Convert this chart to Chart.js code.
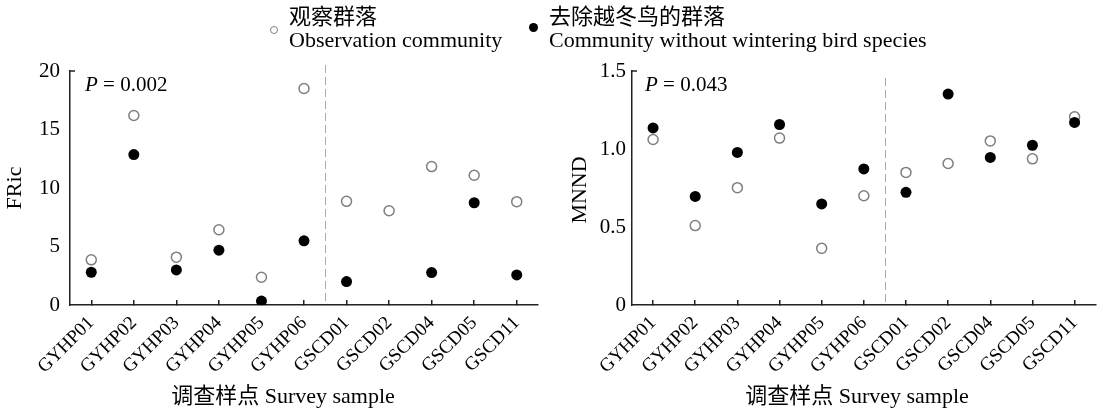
<!DOCTYPE html>
<html>
<head>
<meta charset="utf-8">
<script src="https://cdn.jsdelivr.net/npm/chart.js@4.4.1/dist/chart.umd.min.js"></script>
<style>
  body { margin: 0; background: #fff; }
  #wrap { position: relative; width: 1103px; height: 413px; overflow: hidden; }
  canvas { position: absolute; left: 0; top: 0; }
  .lg { position: absolute; font-family: "Liberation Serif", "Noto Sans CJK SC", serif; font-size: 22px; line-height: 23px; color: #000; white-space: nowrap; }
  .dot { position: absolute; border-radius: 50%; box-sizing: border-box; }
</style>
</head>
<body>
<div id="wrap">
  <canvas id="fricChart" width="1103" height="413"></canvas>
  <canvas id="mnndChart" width="1103" height="413"></canvas>

  <!-- legend shared by both panels -->
  <div class="dot" style="left:270px;top:26px;width:8px;height:8px;border:1px solid #808080;"></div>
  <div class="lg" style="left:289px;top:5px;">观察群落<br>Observation community</div>
  <div class="dot" style="left:529px;top:23px;width:9px;height:9px;background:#000;"></div>
  <div class="lg" style="left:549px;top:5px;">去除越冬鸟的群落<br>Community without wintering bird species</div>
</div>

<script>
// survey samples (x axis)
const samples = ['GYHP01', 'GYHP02', 'GYHP03', 'GYHP04', 'GYHP05', 'GYHP06',
                 'GSCD01', 'GSCD02', 'GSCD04', 'GSCD05', 'GSCD11'];

// functional richness
const fricObserved = [3.86, 16.2, 4.09, 6.43, 2.37, 18.5, 8.86, 8.06, 11.83, 11.09, 8.83];
const fricNoWinter = [2.8, 12.86, 3.0, 4.69, 0.34, 5.49, 2.0, null, 2.77, 8.74, 2.57];
const fricTicks = [0, 5, 10, 15, 20];

// mean nearest neighbour distance
const mnndObserved = [1.061, 0.509, 0.752, 1.07, 0.363, 0.70, 0.85, 0.907, 1.052, 0.937, 1.207];
const mnndNoWinter = [1.135, 0.696, 0.978, 1.157, 0.648, 0.872, 0.722, 1.352, 0.946, 1.024, 1.17];
const mnndTicks = [0, 0.5, 1.0, 1.5];

const SERIF = '"Liberation Serif", "Noto Sans CJK SC", serif';
const AXIS = '#222';

// dashed separator, P value, axis titles
const decor = {
  id: 'decor',
  afterDraw(chart, args, o) {
    const { ctx, chartArea, scales: { x } } = chart;
    ctx.save();
    const sx = Math.round((x.getPixelForValue(5) + x.getPixelForValue(6)) / 2) + 0.5;
    ctx.strokeStyle = '#aaaaaa';
    ctx.lineWidth = 1;
    ctx.setLineDash([8, 4]);
    ctx.beginPath();
    ctx.moveTo(sx, o.sepTop);
    ctx.lineTo(sx, chartArea.bottom - 1);
    ctx.stroke();
    ctx.setLineDash([]);

    // small cap at the top of the y axis
    ctx.strokeStyle = AXIS;
    ctx.lineWidth = 1.5;
    ctx.beginPath();
    ctx.moveTo(chartArea.left, chartArea.top);
    ctx.lineTo(chartArea.left + 5, chartArea.top);
    ctx.stroke();

    ctx.fillStyle = '#000';
    ctx.textBaseline = 'middle';
    ctx.textAlign = 'left';
    ctx.font = 'italic 21px ' + SERIF;
    ctx.fillText('P', o.pX, o.pY);
    const pw = ctx.measureText('P').width;
    ctx.font = '21px ' + SERIF;
    ctx.fillText(' = ' + o.pValue, o.pX + pw, o.pY);

    ctx.textAlign = 'center';
    ctx.font = '22px ' + SERIF;
    ctx.fillText(o.xTitle, o.xTitleX, o.xTitleY);
    ctx.translate(o.yTitleX, o.yTitleY);
    ctx.rotate(-Math.PI / 2);
    ctx.fillText(o.yTitle, 0, 0);
    ctx.restore();
  }
};

function makeChart(id, observed, noWinter, ticks, fmt, box, decorOpts) {
  return new Chart(document.getElementById(id), {
    type: 'line',
    data: {
      labels: samples,
      datasets: [
        {
          label: '去除越冬鸟的群落 Community without wintering bird species',
          data: noWinter,
          showLine: false,
          pointRadius: 5.5,
          pointBackgroundColor: '#000',
          pointBorderColor: '#000',
          pointBorderWidth: 0
        },
        {
          label: '观察群落 Observation community',
          data: observed,
          showLine: false,
          pointRadius: 5,
          pointBackgroundColor: 'rgba(255,255,255,0)',
          pointBorderColor: '#7f7f7f',
          pointBorderWidth: 1.5
        }
      ]
    },
    options: {
      responsive: false,
      animation: false,
      devicePixelRatio: 1,
      layout: { padding: { left: box.padLeft, right: box.padRight, top: 71, bottom: 0 } },
      plugins: { legend: { display: false }, tooltip: { enabled: false }, decor: decorOpts },
      scales: {
        x: {
          type: 'category',
          offset: true,
          grid: { display: true, drawOnChartArea: false, drawTicks: true, tickLength: -5, color: AXIS, lineWidth: 1.5 },
          border: { display: true, color: AXIS, width: 1.5 },
          ticks: { autoSkip: false, minRotation: 45, maxRotation: 45, padding: 12, color: '#000', font: { family: SERIF, size: 19 } },
          afterFit(s) { s.height = 108; }
        },
        y: {
          min: ticks[0],
          max: ticks[ticks.length - 1],
          grid: { display: true, drawOnChartArea: false, drawTicks: false },
          border: { display: true, color: AXIS, width: 1.5 },
          ticks: { padding: box.tickPad, color: '#000', font: { family: SERIF, size: 21 }, callback: fmt },
          afterBuildTicks(s) { s.ticks = ticks.map(v => ({ value: v })); },
          afterFit(s) { s.width = box.axisWidth; }
        }
      }
    },
    plugins: [decor]
  });
}

makeChart('fricChart', fricObserved, fricNoWinter, fricTicks, v => String(v),
  { padLeft: 0, padRight: 565, axisWidth: 70, tickPad: 10 },
  { sepTop: 65, pX: 85, pY: 85, pValue: '0.002', xTitle: '调查样点 Survey sample', xTitleX: 283, xTitleY: 397, yTitle: 'FRic', yTitleX: 15, yTitleY: 188 });

makeChart('mnndChart', mnndObserved, mnndNoWinter, mnndTicks, v => (v === 0 ? '0' : v.toFixed(1)),
  { padLeft: 572, padRight: 3, axisWidth: 60, tickPad: 6 },
  { sepTop: 78, pX: 645, pY: 85, pValue: '0.043', xTitle: '调查样点 Survey sample', xTitleX: 857, xTitleY: 397, yTitle: 'MNND', yTitleX: 580, yTitleY: 190 });
</script>
</body>
</html>
